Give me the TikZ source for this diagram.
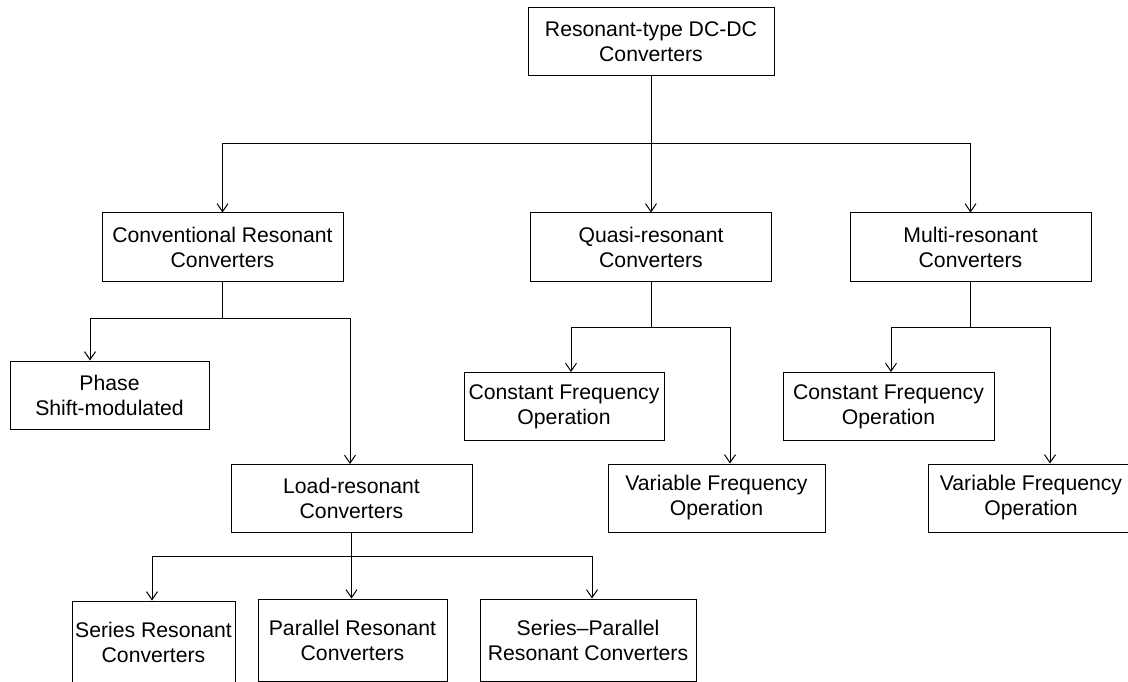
\documentclass[tikz,border=0pt]{standalone}
\usepackage{fontspec}
\setmainfont{Liberation Sans}
\usetikzlibrary{arrows.meta}
\tikzset{
	convbox/.style={draw, line width=1pt, align=center, inner sep=0pt,
	  minimum height=68pt, font=\fontsize{21.2}{25}\selectfont}
}
\tikzset{
	treearrow/.style={line width=1pt, -{Straight Barb[length=8pt,width=11pt,line width=1pt]}}
}

\begin{document}
\begin{tikzpicture}[x=1pt,y=-1pt]
      \clip (0,0) rectangle (1128,682);
      \node[convbox, minimum width=246pt] (top) at (651,41.3) {Resonant-type DC-DC\\Converters};
      \node[convbox, minimum width=241pt] (conv) at (222.5,247) {Conventional Resonant\\Converters};
      \node[convbox, minimum width=241pt] (quasi) at (651,247) {Quasi-resonant\\Converters};
      \node[convbox, minimum width=241pt] (multi) at (970.5,247) {Multi-resonant\\Converters};
      \node[convbox, minimum width=199pt] (phase) at (109.5,395) {Phase\\Shift-modulated};
      \node[convbox, minimum width=200pt] (constq) at (564,406.5) {Constant Frequency\\Operation};
      \node[convbox, minimum width=211pt] (constm) at (888.5,406.5) {Constant Frequency\\Operation};
      \node[convbox, minimum width=217pt] (varq) at (716.5,498) {Variable Frequency\\Operation};
      \node[convbox, minimum width=206pt] (varm) at (1031,498) {Variable Frequency\\Operation};
      \node[convbox, minimum width=241pt] (load) at (351.5,498.5) {Load-resonant\\Converters};
      \node[convbox, minimum width=163pt, minimum height=82pt] (series) at (153.5,642) {Series Resonant\\Converters};
      \node[convbox, minimum width=189pt, minimum height=82pt] (parallel) at (352.5,640) {Parallel Resonant\\Converters};
      \node[convbox, minimum width=216pt, minimum height=82pt] (serpar) at (588,640) {Series--Parallel\\Resonant Converters};
      \coordinate (j0) at (top.south |- 0,144);
      \coordinate (j1) at (conv.south |- 0,318);
      \coordinate (j2) at (quasi.south |- 0,327);
      \coordinate (j3) at (multi.south |- 0,327);
      \coordinate (j4) at (load.south |- 0,556);
      \foreach \n/\j in {top/j0, conv/j1, quasi/j2, multi/j3, load/j4}
        \draw[line width=1pt] (\n.south) -- (\j);
      \foreach \j/\n/\dx in {
        j0/conv/0, j0/quasi/0, j0/multi/0,
        j1/phase/-19.5, j1/load/-1.5,
        j2/constq/7, j2/varq/13.5,
        j3/constm/2.5, j3/varm/19,
        j4/series/-1.5, j4/parallel/-1, j4/serpar/4}
        \draw[treearrow] (\j) -| ([xshift=\dx pt]\n.north);
\end{tikzpicture}
\end{document}
